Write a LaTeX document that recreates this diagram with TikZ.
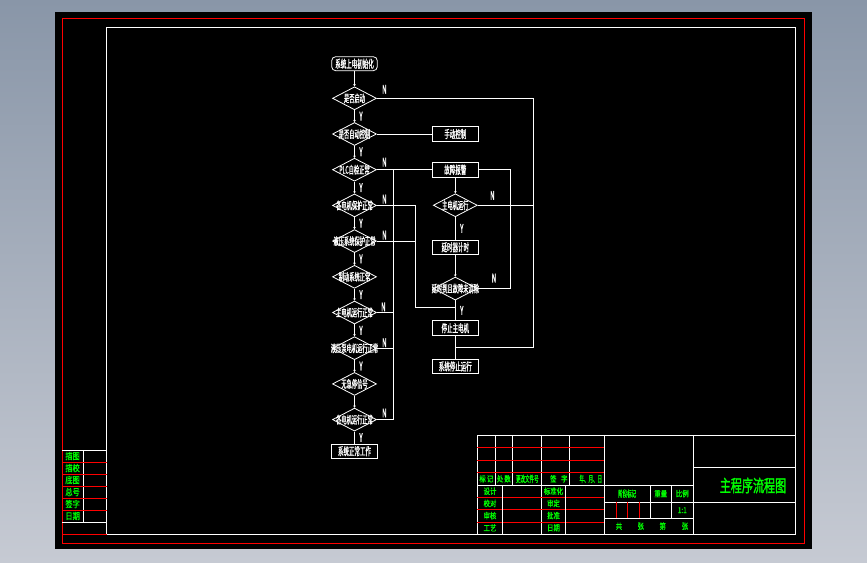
\documentclass[tikz,border=0pt]{standalone}
\usepackage{fontspec}
\newfontfamily\cadfont[FakeStretch=0.5,FakeBold=1]{Noto Sans CJK SC}
\newfontfamily\tbfont[FakeStretch=0.8,FakeBold=1]{Noto Sans CJK SC}
\newfontfamily\titlefont[FakeStretch=0.65,FakeBold=1.5]{Noto Sans CJK SC}
\usetikzlibrary{calc,positioning,shapes.geometric,arrows.meta}

\definecolor{cadred}{RGB}{255,0,0}
\definecolor{cadgreen}{RGB}{0,255,0}
\definecolor{bgtop}{RGB}{137,150,168}
\definecolor{bgbot}{RGB}{198,202,211}
\newcommand\dtxt[1]{\makebox[0pt]{#1}}

\begin{document}
\begin{tikzpicture}[
      x=1pt, y=-1pt,
      >={Stealth[length=2.2pt,width=2.6pt]},
      line width=0.8pt,
      flow/.style={draw=white, line width=0.8pt},
      flowin/.style={flow, <-},
      terminal/.style={
        rectangle, rounded corners=4pt,
        draw=white, text=white,
        minimum width=45.6pt, minimum height=14pt, inner sep=0pt,
        font=\cadfont\fontsize{11}{11}\selectfont
      },
      process/.style={terminal, sharp corners, minimum width=46pt, minimum height=14.5pt},
      decision/.style={
        diamond, draw=white, text=white,
        minimum width=44pt, minimum height=23pt, inner sep=0pt,
        font=\cadfont\fontsize{10.5}{10.5}\selectfont
      },
      yn/.style={text=white, inner sep=0pt, font=\cadfont\fontsize{12}{12}\selectfont},
      frame/.style={draw=white, line width=0.8pt},
      redline/.style={draw=cadred, line width=0.8pt},
      tbtext/.style={text=cadgreen, inner sep=0pt, font=\tbfont\fontsize{8}{8}\selectfont},
      tbnarrow/.style={tbtext, font=\cadfont\fontsize{9}{9}\selectfont}
    ]

      \useasboundingbox (0,0) rectangle (867,562);

      % sheet and frames
      \shade[top color=bgtop, bottom color=bgbot] (0,0) rectangle (867,562);
      \fill[black] (55,12.3) rectangle (812,549);
      \draw[redline] (62.3,18.5) rectangle (804,543);
      \draw[frame] (106.7,27.5) rectangle (795,534.3);

      % main column
      \node[terminal] (init) at (354.5,63.7) {系统上电初始化};
      \node[decision, below=15.3pt of init] (d1) {\dtxt{是否启动}}
        edge [flowin] (init);
      \node[decision, below=11.9pt of d1] (d2) {\dtxt{是否自动控制}}
        edge [flowin] node[yn, right=4.5pt] (y1) {Y} (d1);
      \node[decision, below=11.9pt of d2] (d3) {\dtxt{PLC自检正常}}
        edge [flowin] node[yn, right=4.5pt] (y2) {Y} (d2);
      \node[decision, below=11.9pt of d3] (d4) {\dtxt{各电机保护正常}}
        edge [flowin] node[yn, right=4.5pt] (y3) {Y} (d3);
      \node[decision, below=11.9pt of d4] (d5) {\dtxt{液压系统保护正常}}
        edge [flowin] node[yn, right=4.5pt] (y4) {Y} (d4);
      \node[decision, below=11.9pt of d5] (d6) {\dtxt{制动系统正常}}
        edge [flowin] node[yn, right=4.5pt] (y5) {Y} (d5);
      \node[decision, below=11.9pt of d6] (d7) {\dtxt{主电机运行正常}}
        edge [flowin] node[yn, right=4.5pt] (y6) {Y} (d6);
      \node[decision, below=11.9pt of d7] (d8) {\dtxt{液压泵电机运行正常}}
        edge [flowin] node[yn, right=4.5pt] (y7) {Y} (d7);
      \node[decision, below=11.9pt of d8] (d9) {\dtxt{无急停信号}}
        edge [flowin] node[yn, right=4.5pt] (y8) {Y} (d8);
      \node[decision, below=11.9pt of d9] (d10) {\dtxt{各电机运行正常}}
        edge [flowin] (d9);
      \node[process, below=12pt of d10] (normal) {系统正常工作}
        edge [flow] node[yn, right=4.5pt] (y9) {Y} (d10);

      % fault column
      \node[process, right=55pt of d2] (manual) {手动控制}
        edge [flow] (d2);
      \node[process, right=55pt of d3] (alarm) {故障报警}
        edge [flow] (d3);
      \node[decision, below=16pt of alarm] (r1) {\dtxt{主电机运行}}
        edge [flowin] (alarm);
      \node[process, below=22.5pt of r1] (timer) {延时器计时}
        edge [flow] node[yn, right=4.5pt] (y10) {Y} (r1);
      \node[decision, below=21.7pt of timer] (r2) {\dtxt{延时到且故障未消除}}
        edge [flowin] (timer);
      \node[process, below=20pt of r2] (motoroff) {停止主电机}
        edge [flow] node[yn, right=4.5pt] (y11) {Y} (r2);
      \node[process, below=23pt of motoroff] (sysstop) {系统停止运行}
        edge [flow] (motoroff);

      % N branches
      \coordinate (busr) at ([xshift=156pt]d1.east);
      \coordinate (busm) at ([xshift=38pt]d4.east);
      \coordinate (busl) at ([xshift=16pt]d3.east);
      \coordinate (j1) at ($(motoroff.south)!0.5!(sysstop.north)$);
      \coordinate (j2) at ($(r2.south)!0.37!(motoroff.north)$);
      \draw[flow] (d1.east) -- (busr) |- (j1);
      \draw[flow] (r1.east) -- (r1.east -| busr);
      \draw[flow] (r2.east) -- ++(33,0) |- (alarm.east);
      \draw[flow] (d4.east) -- (busm) |- (j2);
      \draw[flow] (d5.east) -- (d5.east -| busm);
      \draw[flow] (d10.east) -| (busl);
      \foreach \d in {d7,d8}
        \draw[flow] (\d.east) -- (\d.east -| busl);

      \node[yn] (n1) at ([shift={(7.5,-9)}]d1.east) {N};
      \node[yn] (n3) at ([shift={(7.5,-7.5)}]d3.east) {N};
      \node[yn] (n4) at ([shift={(7.5,-6.3)}]d4.east) {N};
      \node[yn] (n5) at ([shift={(7.5,-6)}]d5.east) {N};
      \node[yn] (n7) at ([shift={(6.5,-5.6)}]d7.east) {N};
      \node[yn] (n8) at ([shift={(7.5,-5.5)}]d8.east) {N};
      \node[yn] (n10) at ([shift={(7.5,-6.6)}]d10.east) {N};
      \node[yn] (nr1) at ([shift={(14.7,-9.8)}]r1.east) {N};
      \node[yn] (nr2) at ([shift={(16.3,-10.5)}]r2.east) {N};

      % left filing strip
      \draw[frame] (62.3,450) -- (106.7,450);
      \draw[frame] (83,450) -- (83,522);
      \draw[frame] (62.3,522) -- (106.7,522);
      \foreach \y in {462,474,486,498,510}
        \draw[redline] (62.3,\y) -- (106.7,\y);
      \draw[redline] (62.3,534.3) -- (106.7,534.3);
      \foreach \t [count=\i] in {描图,描校,底图,总号,签字,日期}
        \node[tbtext, font=\tbfont\fontsize{9}{9}\selectfont] (strip\i) at (72.6,444+12*\i) {\t};

      % title block
      \draw[frame] (477.3,534.3) |- (795,435.3);
      \foreach \x in {495.3,512.3,569.3}
        \draw[frame] (\x,435.3) -- (\x,485.3);
      \foreach \x in {541.3,604.3,693.3}
        \draw[frame] (\x,435.3) -- (\x,534.3);
      \foreach \y in {447.3,460.3,472.3,497.3,509.3,522}
        \draw[redline] (477.3,\y) -- (604.3,\y);
      \draw[frame] (477.3,485.3) -- (693.3,485.3);
      \foreach \x in {502.3,565.7}
        \draw[frame] (\x,485.3) -- (\x,534.3);
      \foreach \y in {502,518.3}
        \draw[frame] (604.3,\y) -- (693.3,\y);
      \foreach \x in {650,671.3}
        \draw[frame] (\x,485.3) -- (\x,518.3);
      \foreach \x in {616.3,627.3,639.3}
        \draw[redline] (\x,502) -- (\x,518.3);
      \foreach \y in {467.3,502}
        \draw[frame] (693.3,\y) -- (795,\y);

      \node[tbtext] (hd1) at (486.3,478.8) {标\hspace{1pt}记};
      \node[tbtext] (hd2) at (503.8,478.8) {处\hspace{1pt}数};
      \node[tbnarrow] (hd3) at (527.3,478.8) {更改文件号};
      \node[tbtext] (hd4) at (558.8,478.8) {签\hspace{4.5pt}字};
      \node[tbnarrow] (hd5) at (590.8,478.8) {年、月、日};

      \foreach \t [count=\i] in {设计,校对,审核,工艺}
        \node[tbtext] (la\i) at (490,479+12.2*\i) {\t};
      \foreach \t [count=\i] in {标准化,审定,批准,日期}
        \node[tbtext] (lb\i) at (553.5,479+12.2*\i) {\t};

      \node[tbnarrow] (stage) at (627.2,493.6) {阶段标记};
      \node[tbtext] (weight) at (660.7,493.6) {重量};
      \node[tbtext] (scale) at (682.3,493.6) {比例};
      \node[tbtext] (ratio) at (682.3,510.2) {1:1};
      \node[tbtext] (tot) at (619,526.2) {共};
      \node[tbtext] (sh1) at (640.7,526.2) {张};
      \node[tbtext] (no) at (662.7,526.2) {第};
      \node[tbtext] (sh2) at (685,526.2) {张};

      \node[tbtext, font=\titlefont\fontsize{17}{17}\selectfont] (title) at (753,485.5) {主程序流程图};
    \end{tikzpicture}
\end{document}
